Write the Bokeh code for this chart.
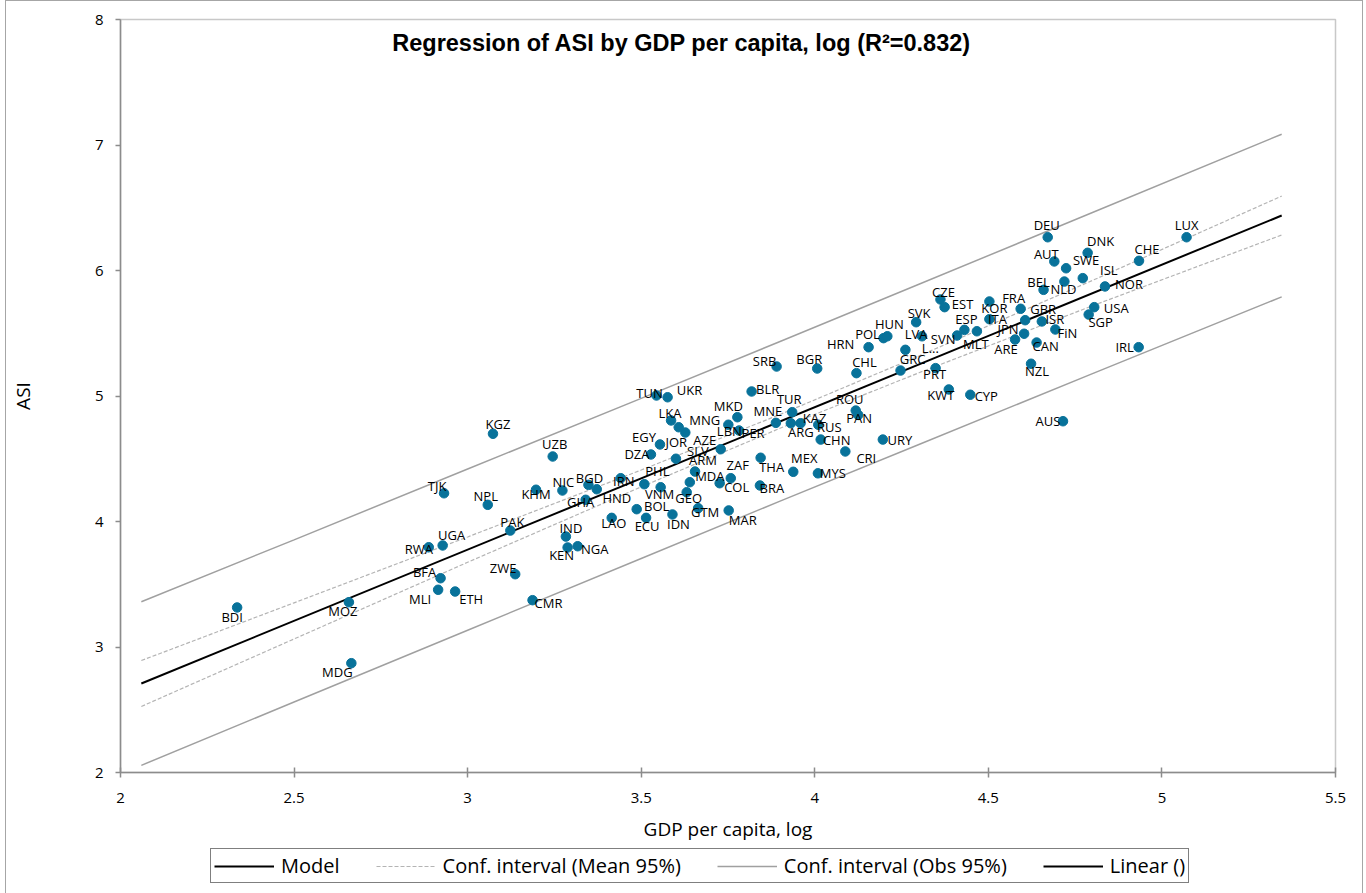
from bokeh.plotting import figure
from bokeh.layouts import column
from bokeh.models import ColumnDataSource, Label, Legend, LegendItem, FixedTicker
from bokeh.core.properties import value
from bokeh.embed import file_html
from bokeh.resources import INLINE

# ---------------- data ----------------
codes = ["BDI", "MOZ", "MDG", "RWA", "UGA", "TJK", "NPL", "KGZ", "UZB", "KHM",
         "NIC", "PAK", "BFA", "MLI", "ETH", "ZWE", "CMR", "IND", "KEN", "NGA",
         "GHA", "BGD", "HND", "IRN", "LAO", "PHL", "VNM", "GEO", "BOL", "ECU",
         "IDN", "GTM", "MAR", "MDA", "ARM", "ZAF", "COL", "DZA", "SLV", "AZE",
         "EGY", "JOR", "MNG", "LKA", "LBN", "PER", "MKD", "BLR", "TUN", "UKR",
         "SRB", "BGR", "CHL", "MNE", "TUR", "ARG", "KAZ", "RUS", "CHN", "THA",
         "BRA", "MEX", "MYS", "CRI", "URY", "ROU", "PAN", "HRN", "POL", "HUN",
         "SVK", "LVA", "L...", "GRC", "PRT", "KWT", "CYP", "SVN", "CZE", "EST",
         "ESP", "MLT", "KOR", "ITA", "FRA", "GBR", "JPN", "ARE", "ISR", "CAN",
         "FiN", "NZL", "BEL", "NLD", "ISL", "NOR", "SWE", "AUT", "DNK", "DEU",
         "CHE", "LUX", "USA", "SGP", "IRL", "AUS"]

gdp_log = [2.336, 2.658, 2.665, 2.888, 2.928, 2.932, 3.058, 3.073, 3.245, 3.197,
           3.273, 3.123, 2.922, 2.915, 2.964, 3.137, 3.187, 3.283, 3.288, 3.317,
           3.340, 3.348, 3.372, 3.441, 3.415, 3.509, 3.556, 3.631, 3.487, 3.514,
           3.590, 3.664, 3.752, 3.640, 3.655, 3.758, 3.726, 3.528, 3.600, 3.729,
           3.554, 3.627, 3.608, 3.586, 3.751, 3.782, 3.777, 3.818, 3.544, 3.576,
           3.890, 4.007, 4.120, 3.888, 3.935, 3.931, 3.959, 4.010, 4.017, 3.844,
           3.842, 3.938, 4.009, 4.088, 4.196, 4.118, 4.125, 4.155, 4.198, 4.209,
           4.292, 4.309, 4.261, 4.247, 4.348, 4.386, 4.448, 4.410, 4.362, 4.374,
           4.431, 4.467, 4.503, 4.503, 4.593, 4.606, 4.603, 4.577, 4.654, 4.639,
           4.693, 4.623, 4.659, 4.719, 4.772, 4.836, 4.724, 4.690, 4.786, 4.671,
           4.934, 5.071, 4.805, 4.789, 4.933, 4.715]

asi = [3.315, 3.357, 2.871, 3.795, 3.809, 4.225, 4.133, 4.699, 4.518, 4.253,
       4.247, 3.928, 3.548, 3.456, 3.442, 3.580, 3.373, 3.880, 3.793, 3.803,
       4.173, 4.292, 4.257, 4.345, 4.029, 4.297, 4.273, 4.233, 4.098, 4.029,
       4.056, 4.106, 4.088, 4.313, 4.398, 4.345, 4.305, 4.534, 4.500, 4.576,
       4.614, 4.709, 4.751, 4.805, 4.771, 4.725, 4.831, 5.036, 5.004, 4.990,
       5.235, 5.219, 5.182, 4.786, 4.871, 4.783, 4.783, 4.771, 4.653, 4.508,
       4.287, 4.396, 4.384, 4.558, 4.653, 4.884, 4.849, 5.389, 5.461, 5.476,
       5.588, 5.476, 5.368, 5.203, 5.222, 5.052, 5.010, 5.482, 5.769, 5.708,
       5.527, 5.516, 5.753, 5.612, 5.695, 5.604, 5.496, 5.450, 5.594, 5.426,
       5.530, 5.257, 5.846, 5.912, 5.939, 5.873, 6.018, 6.072, 6.141, 6.265,
       6.077, 6.265, 5.708, 5.649, 5.389, 4.799]

# regression line and bands
model_x = [2.060, 5.345]
model_y = [2.709, 6.438]
band_x = [2.06, 2.5, 3.0, 3.5, 3.9, 4.3, 4.8, 5.345]
mean_hi = [2.892, 3.352, 3.877, 4.410, 4.853, 5.319, 5.921, 6.593]
mean_lo = [2.526, 3.064, 3.675, 4.276, 4.743, 5.185, 5.719, 6.283]
obs_hi = [3.361, 3.854, 4.418, 4.981, 5.434, 5.890, 6.462, 7.086]
obs_lo = [2.057, 2.562, 3.134, 3.705, 4.162, 4.614, 5.178, 5.790]

x_ticks = [2, 2.5, 3, 3.5, 4, 4.5, 5, 5.5]
y_ticks = [2, 3, 4, 5, 6, 7, 8]

legend_labels = ["Model", "Conf. interval (Mean 95%)",
                 "Conf. interval (Obs 95%)", "Linear ()"]

# label placement (screen px offsets from each point, style only)
label_dx = [-5, -6, -14, -10, 9, -7, -2, 5, 2, 0,
            1, 2, -16, -18, 16, -12, 16, 5, -6, 17,
            -5, 1, 20, 3, 2, 13, -1, 2, 20, 1,
            6, 7, 14, 20, 8, 7, 17, -14, 22, -16,
            -16, -9, 26, -1, 1, 14, -9, 16, -7, 22,
            -12, -8, 8, -8, -3, 10, 14, 11, 16, 11,
            12, 11, 15, 21, 17, -6, 1, -28, -16, 2,
            3, -6, 25, 12, -1, -8, 16, -14, 3, 18,
            2, -1, 5, 8, -7, 18, -16, -9, 13, 9,
            12, 6, -5, -1, 26, 24, 20, -8, 13, -1,
            8, 0, 22, 12, -14, -15]
label_dy = [10, 9, 9, 2, -10, -7, -9, -10, -12, 4,
            -9, -9, -6, 9, 7, -6, 3, -9, 8, 3,
            2, -7, 9, 3, 5, -13, 7, 6, -3, 8,
            10, 4, 10, -6, -12, -13, 4, 0, -8, -9,
            -7, 9, -7, -7, 6, 2, -11, -2, -2, -7,
            -6, -10, -11, -12, -13, 9, -5, 2, 0, 9,
            3, -14, 0, 7, 0, -12, 3, -3, -4, -12,
            -9, -2, -2, -12, 6, 6, 1, 3, -7, -3,
            -11, 13, 7, 0, -11, -11, -5, 9, -2, 3,
            4, 7, -8, 7, -8, -2, -8, -7, -12, -12,
            -12, -12, 1, 7, 0, 0]

FONT = "Open Sans"
OBS = dict(line_color="#a0a0a0", line_width=1.5)
MEAN = dict(line_color="#b4b4b4", line_width=1.2, line_dash="4 2")
MODEL = dict(line_color="black", line_width=2)

# ---------------- main figure ----------------
p = figure(width=1356, height=847, x_range=(2, 5.5), y_range=(2, 8),
           output_backend="svg", toolbar_location=None,
           min_border_left=107, min_border_right=27, min_border_top=18,
           min_border_bottom=76, background_fill_color="white",
           border_fill_color="white")
p.grid.visible = False
p.outline_line_color = "#c8c8c8"
p.outline_line_width = 1.5

for ax in (p.xaxis[0], p.yaxis[0]):
    ax.axis_line_color = "#8c8c8c"
    ax.axis_line_width = 1.5
    ax.major_tick_line_color = "#8c8c8c"
    ax.major_tick_line_width = 1.5
    ax.minor_tick_line_color = None
    ax.major_label_text_font = FONT
    ax.major_label_text_font_size = "15px"
    ax.major_label_text_color = "black"
    ax.axis_label_text_font = FONT
    ax.axis_label_text_font_style = "normal"
    ax.axis_label_text_font_size = "19px"
    ax.axis_label_text_color = "black"

p.xaxis.ticker = FixedTicker(ticks=x_ticks)
p.yaxis.ticker = FixedTicker(ticks=y_ticks)
p.xaxis.major_tick_in = 5
p.xaxis.major_tick_out = 5
p.xaxis.major_label_standoff = 15
p.xaxis.axis_label = "GDP per capita, log"
p.xaxis.axis_label_standoff = 10
p.yaxis.major_tick_in = 0
p.yaxis.major_tick_out = 5
p.yaxis.major_label_standoff = 12
p.yaxis.axis_label = "ASI"
p.yaxis.axis_label_standoff = 56

p.line(band_x, obs_hi, **OBS)
p.line(band_x, obs_lo, **OBS)
p.line(band_x, mean_hi, **MEAN)
p.line(band_x, mean_lo, **MEAN)
p.line(model_x, model_y, **MODEL)

src = ColumnDataSource(dict(x=gdp_log, y=asi, code=codes, dx=label_dx, dy=label_dy))
p.scatter("x", "y", source=src, size=9.5, fill_color="#08729a", line_color="#08729a")
p.text("x", "y", text="code", source=src, x_offset="dx", y_offset="dy",
       text_align="center", text_baseline="middle", text_font=value(FONT),
       text_font_size="13px", text_color="black")

p.add_layout(Label(x=3.617, y=7.809,
                   text="Regression of ASI by GDP per capita, log (R\u00b2=0.832)",
                   text_font="Liberation Sans", text_font_style="bold",
                   text_font_size="23.5px", text_align="center",
                   text_baseline="middle", text_color="black"))

# ---------------- legend strip ----------------
q = figure(width=1356, height=45, x_range=(0, 1), y_range=(0, 1),
           output_backend="svg", toolbar_location=None,
           x_axis_location=None, y_axis_location=None,
           min_border_left=0, min_border_right=0, min_border_top=0,
           min_border_bottom=0, background_fill_color="white",
           border_fill_color="white")
q.grid.visible = False
q.outline_line_color = None
# legend-only glyphs, kept outside the strip's visible range
g_model = q.line([-5, -4], [-5, -4], **MODEL)
g_mean = q.line([-5, -4], [-5, -4], **MEAN)
g_obs = q.line([-5, -4], [-5, -4], **OBS)

legend = Legend(items=[
    LegendItem(label=legend_labels[0], renderers=[g_model]),
    LegendItem(label=legend_labels[1], renderers=[g_mean]),
    LegendItem(label=legend_labels[2], renderers=[g_obs]),
    LegendItem(label=legend_labels[3], renderers=[g_model]),
], orientation="horizontal", location=(90, 10))
legend.label_text_font = FONT
legend.label_text_font_size = "20px"
legend.label_text_color = "black"
legend.label_height = 18
legend.glyph_width = 60
legend.glyph_height = 18
legend.label_standoff = 7
legend.spacing = 36
legend.padding = 3
legend.margin = 0
legend.border_line_color = "black"
legend.border_line_width = 1.2
legend.background_fill_color = "white"
legend.background_fill_alpha = 1
q.add_layout(legend, "center")

layout = column(p, q, spacing=0)
layout.styles = {"border": "1px solid #a6a6a6", "margin-left": "5px"}

open("out.html", "w").write(file_html(layout, INLINE))
